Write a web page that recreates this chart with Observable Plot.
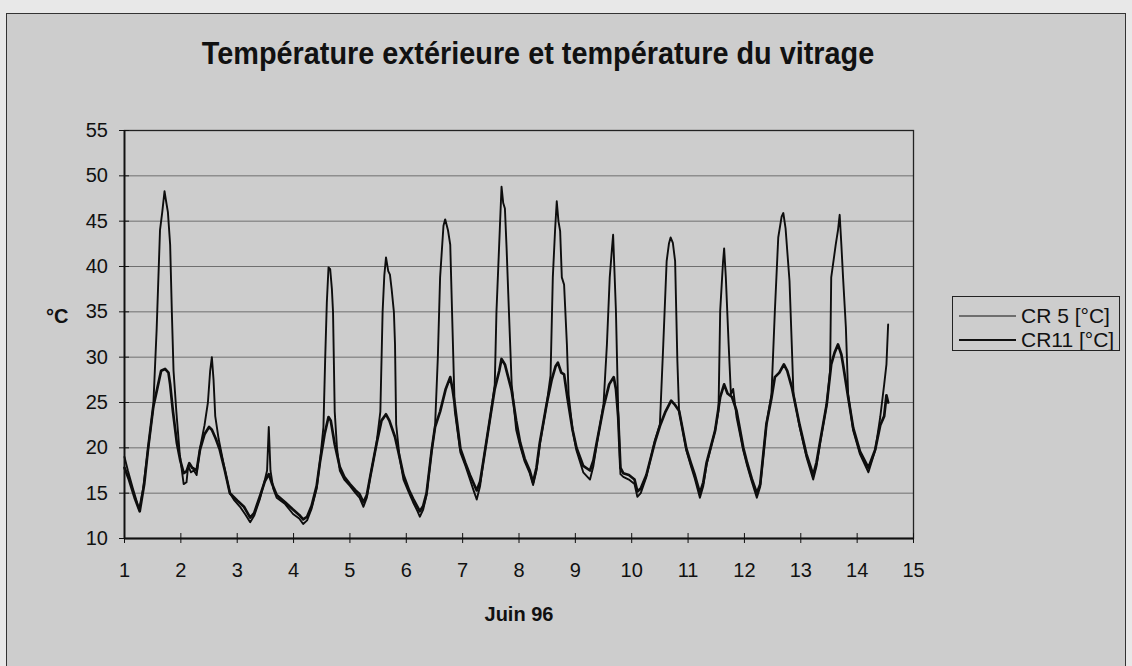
<!DOCTYPE html>
<html><head><meta charset="utf-8">
<script src="https://cdn.jsdelivr.net/npm/d3@7"></script>
<script src="https://cdn.jsdelivr.net/npm/@observablehq/plot@0.6"></script>
<style>
html,body{margin:0;padding:0;background:#e8e8e8;}
#wrap{position:relative;width:1132px;height:666px;overflow:hidden;font-family:"Liberation Sans",Arial,sans-serif;color:#111;}
#panel{position:absolute;left:6px;top:13px;width:1120px;height:720px;background:#cdcdcd;border:1.5px solid #333;box-sizing:border-box;}
#title{position:absolute;left:0;width:1076px;top:36px;text-align:center;font-weight:bold;font-size:31px;white-space:nowrap;transform:scaleX(0.93);transform-origin:538px 0;}
#ylab{position:absolute;left:46px;top:305px;font-weight:bold;font-size:20px;}
#xlab{position:absolute;left:419px;width:200px;top:603px;text-align:center;font-weight:bold;font-size:20px;}
#chart{position:absolute;left:0;top:0;}
#legend{position:absolute;left:952px;top:296px;width:168px;height:55px;border:1px solid #222;box-sizing:border-box;}
</style></head>
<body><div id="wrap"><div id="panel"></div><div id="chart"></div>
<div id="title">Température extérieure et température du vitrage</div>
<div id="ylab">°C</div><div id="xlab">Juin 96</div>
<div id="legend"></div></div>
<script>
const seriesNames = ["CR 5 [°C]", "CR11 [°C]"];
const xTicks = [1,2,3,4,5,6,7,8,9,10,11,12,13,14,15];
const yTicks = [10,15,20,25,30,35,40,45,50,55];
// [day of June 96, temperature °C]
const cr5Readings = [[1.00,19.0],[1.06,17.5],[1.15,15.5],[1.26,13.2],[1.33,15.5],[1.42,20],[1.51,24.5],[1.57,33],[1.63,44],[1.67,46],[1.71,48.3],[1.73,47.5],[1.77,46],[1.81,42.4],[1.84,35],[1.87,28.5],[1.92,24],[1.98,19.3],[2.05,16.0],[2.10,16.2],[2.13,18.0],[2.18,17.3],[2.23,17.5],[2.28,17.0],[2.34,20.0],[2.42,22.5],[2.48,25.0],[2.52,28.5],[2.55,30],[2.58,27.5],[2.61,23.5],[2.67,21.0],[2.75,18.5],[2.87,15.0],[2.95,14.2],[3.05,13.5],[3.15,12.6],[3.23,11.8],[3.30,12.5],[3.40,14.3],[3.48,16.2],[3.53,17.5],[3.56,22.3],[3.59,17.5],[3.64,15.5],[3.70,14.5],[3.85,13.8],[3.99,12.7],[4.10,12.2],[4.17,11.6],[4.24,12.0],[4.32,13.3],[4.41,15.5],[4.47,18.6],[4.53,22.3],[4.56,29.6],[4.59,36],[4.62,39.9],[4.65,39.7],[4.68,37.5],[4.70,35],[4.73,24],[4.77,20],[4.82,17.5],[4.90,16.5],[5.00,15.8],[5.10,15.0],[5.17,14.5],[5.24,13.5],[5.30,14.5],[5.36,16.8],[5.47,20.4],[5.54,24],[5.58,35],[5.61,39],[5.64,41.0],[5.68,39.5],[5.71,39.1],[5.74,37.5],[5.78,35],[5.80,31.4],[5.82,22.6],[5.88,19],[5.95,16.5],[6.05,15],[6.12,14.0],[6.20,13.0],[6.24,12.4],[6.30,13.2],[6.36,14.8],[6.45,19.7],[6.51,22.3],[6.56,30],[6.60,38.8],[6.66,44.5],[6.69,45.2],[6.74,44],[6.78,42.4],[6.82,33.2],[6.86,24.1],[6.96,19.5],[7.05,18.0],[7.13,16.5],[7.20,15.2],[7.25,14.3],[7.31,15.8],[7.37,18.6],[7.49,23.4],[7.57,27],[7.60,35],[7.66,44.2],[7.69,48.8],[7.72,47],[7.75,46.4],[7.78,42],[7.81,36.9],[7.87,27],[7.95,22],[8.02,20.2],[8.10,18.5],[8.19,17.2],[8.25,15.9],[8.31,17.5],[8.37,20.4],[8.49,24.8],[8.56,28],[8.60,38.8],[8.64,44],[8.67,47.2],[8.70,45],[8.73,43.9],[8.76,38.8],[8.80,38],[8.85,31.4],[8.88,25.9],[8.95,22],[9.02,19.7],[9.14,17.3],[9.26,16.5],[9.32,18],[9.38,20.4],[9.50,24.8],[9.56,31.4],[9.61,38.8],[9.65,42],[9.67,43.5],[9.72,35.1],[9.76,24.1],[9.80,17.1],[9.85,16.8],[9.95,16.5],[10.05,16.0],[10.10,14.6],[10.16,15.0],[10.26,16.8],[10.41,20.8],[10.50,22.6],[10.56,31.4],[10.62,40.6],[10.66,42.5],[10.69,43.2],[10.73,42.6],[10.77,40.6],[10.81,29.6],[10.84,24.1],[10.97,19.7],[11.05,18],[11.12,16.6],[11.21,14.5],[11.27,15.8],[11.33,18.2],[11.48,21.9],[11.54,24.1],[11.57,35.1],[11.62,40.5],[11.64,42],[11.67,38.8],[11.72,31.4],[11.76,25.9],[11.80,26.5],[11.86,23.4],[11.98,19.7],[12.05,18],[12.13,16.3],[12.22,14.5],[12.28,15.7],[12.39,22.6],[12.48,25.9],[12.54,35.1],[12.60,43.2],[12.66,45.5],[12.69,45.9],[12.73,44.2],[12.80,38.4],[12.84,31.4],[12.87,25.9],[12.98,22.3],[13.10,19],[13.22,16.5],[13.28,18],[13.34,20.4],[13.46,24.8],[13.52,28.5],[13.54,38.8],[13.62,42.4],[13.66,44],[13.69,45.7],[13.72,42.4],[13.75,38.8],[13.80,33.3],[13.84,25.9],[13.93,21.9],[14.05,19.3],[14.20,17.3],[14.32,19.7],[14.41,23.4],[14.48,27],[14.52,29.2],[14.55,33.6]];
const cr11Readings = [[1.00,17.8],[1.08,16.5],[1.18,14.5],[1.27,13.0],[1.35,16],[1.42,20],[1.51,24.5],[1.58,26.5],[1.65,28.5],[1.72,28.7],[1.78,28.3],[1.81,27],[1.86,24],[1.93,20.5],[1.99,18.6],[2.05,17.2],[2.10,17.4],[2.15,18.3],[2.20,17.8],[2.28,17.5],[2.34,19.8],[2.42,21.5],[2.50,22.3],[2.55,22.0],[2.62,21.0],[2.69,19.8],[2.78,17.5],[2.87,15],[3.00,14.2],[3.12,13.5],[3.23,12.3],[3.30,12.8],[3.40,14.6],[3.49,16.3],[3.56,17.1],[3.62,16],[3.70,14.8],[3.85,14],[3.99,13.2],[4.10,12.6],[4.17,12.1],[4.24,12.4],[4.32,13.6],[4.41,15.8],[4.47,18.5],[4.55,21.5],[4.62,23.4],[4.66,23],[4.73,20.4],[4.82,17.9],[4.90,16.8],[5.00,16],[5.10,15.3],[5.17,14.9],[5.24,14],[5.30,14.8],[5.36,16.8],[5.47,20.4],[5.56,23],[5.64,23.7],[5.70,23],[5.80,21.2],[5.88,19],[5.95,17],[6.05,15.3],[6.12,14.4],[6.24,13.0],[6.30,13.6],[6.36,15],[6.45,19.7],[6.51,22.3],[6.60,24],[6.70,26.5],[6.78,27.8],[6.82,26.5],[6.86,24.8],[6.96,19.9],[7.05,18.3],[7.13,17],[7.25,15.3],[7.31,16.3],[7.37,18.6],[7.49,23.4],[7.57,26.5],[7.65,28.5],[7.69,29.8],[7.75,29.2],[7.80,28],[7.87,26.3],[7.95,23],[8.02,20.6],[8.10,18.8],[8.19,17.5],[8.25,16.2],[8.31,17.8],[8.37,20.6],[8.49,24.8],[8.58,27.5],[8.65,29],[8.69,29.4],[8.75,28.3],[8.80,28.1],[8.86,25.5],[8.95,22],[9.02,20],[9.14,18],[9.26,17.5],[9.32,18.6],[9.38,20.6],[9.50,24.5],[9.60,27],[9.68,27.8],[9.72,26.5],[9.76,23.4],[9.80,17.8],[9.85,17.2],[9.95,17],[10.05,16.5],[10.10,15.2],[10.16,15.5],[10.26,17],[10.41,20.6],[10.50,22.4],[10.60,24],[10.70,25.2],[10.76,24.8],[10.84,24.1],[10.97,19.9],[11.05,18.3],[11.12,17],[11.21,15],[11.27,16.2],[11.33,18.4],[11.48,21.9],[11.57,25.6],[11.64,27],[11.70,26],[11.78,25.6],[11.86,24.1],[11.98,20],[12.05,18.3],[12.13,16.6],[12.22,15],[12.28,16],[12.39,22.6],[12.48,25.5],[12.54,27.8],[12.62,28.3],[12.70,29.2],[12.76,28.5],[12.84,26.7],[12.98,22.5],[13.10,19.3],[13.22,17],[13.28,18.4],[13.34,20.6],[13.46,24.8],[13.54,29.2],[13.60,30.5],[13.66,31.4],[13.72,30.3],[13.75,29.2],[13.84,25.6],[13.93,22.2],[14.05,19.6],[14.20,17.8],[14.32,19.8],[14.41,22.5],[14.48,23.5],[14.52,25.8],[14.55,25.0]];

const rows = [
  ...cr5Readings.map(([day, temp]) => ({day, temp, series: seriesNames[0]})),
  ...cr11Readings.map(([day, temp]) => ({day, temp, series: seriesNames[1]}))
];
const widths = {[seriesNames[0]]: 1.9, [seriesNames[1]]: 2.7};

const chart = Plot.plot({
  width: 1132, height: 666,
  marginLeft: 124, marginRight: 219, marginTop: 130, marginBottom: 128,
  style: {background: "transparent", fontFamily: "'Liberation Sans', Arial, sans-serif", fontSize: "20px", color: "#111"},
  x: {domain: [1, 15]},
  y: {domain: [10, 55]},
  marks: [
    Plot.gridY(yTicks.slice(1, -1), {stroke: "#6f6f6f", strokeOpacity: 1, strokeWidth: 1}),
    Plot.frame({stroke: "#222", strokeWidth: 1.3}),
    ...seriesNames.map(s => Plot.line(rows.filter(r => r.series === s), {x: "day", y: "temp", stroke: "#0d0d0d", strokeWidth: widths[s], strokeLinejoin: "round"})),
    Plot.axisY({ticks: yTicks, tickSize: 10, dx: 5, tickPadding: 11.5, label: null, tickFormat: d => d, stroke: "#111"}),
    Plot.axisX({ticks: xTicks, tickSize: 10, dy: -5, tickPadding: 19, label: null, tickFormat: d => d, stroke: "#111"}),
    Plot.ruleY([10], {stroke: "#111", strokeWidth: 1.8}),
    Plot.ruleX([1], {stroke: "#111", strokeWidth: 1.8})
  ]
});
document.getElementById("chart").appendChild(chart);

// legend
const leg = d3.select("#legend").append("svg").attr("width", 166).attr("height", 53);
seriesNames.forEach((s, i) => {
  const y = 19 + i * 24;
  leg.append("line").attr("x1", 6).attr("x2", 63).attr("y1", y).attr("y2", y)
    .attr("stroke", "#111").attr("stroke-width", i === 0 ? 1.2 : 2.2);
  leg.append("text").attr("x", 68).attr("y", y).attr("dy", "0.35em")
    .attr("font-family", "'Liberation Sans', Arial, sans-serif").attr("font-size", 21).attr("fill", "#111").text(s);
});
</script></body></html>
